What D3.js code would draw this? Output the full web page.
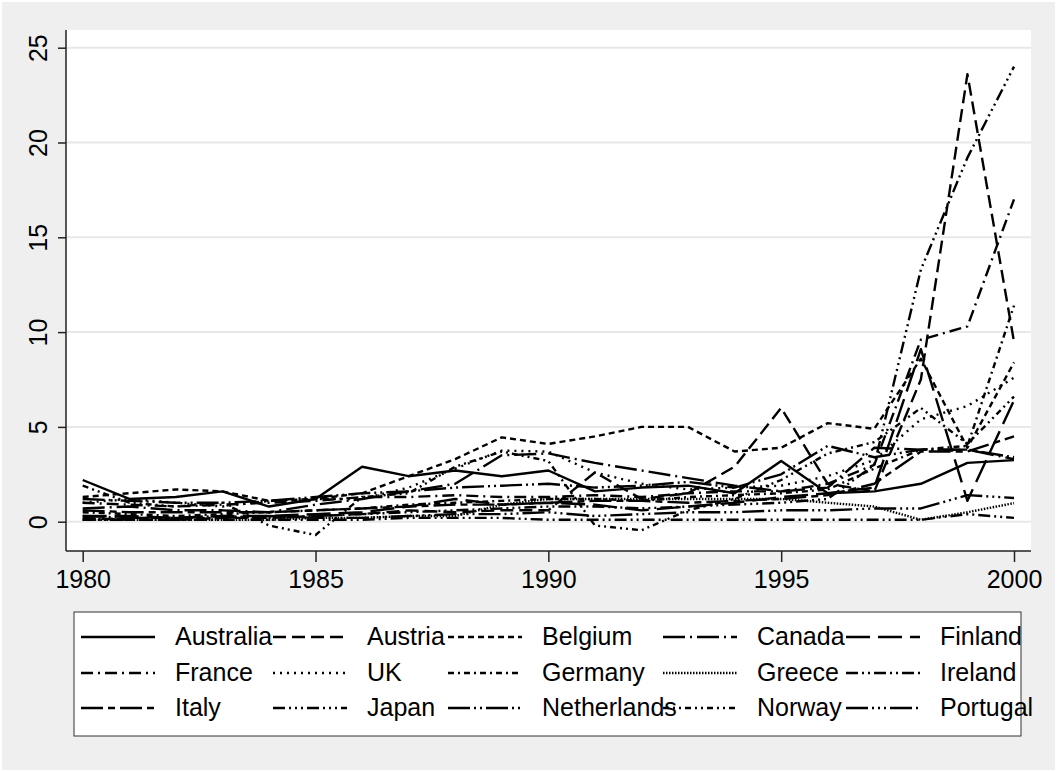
<!DOCTYPE html>
<html>
<head>
<meta charset="utf-8">
<script src="https://cdn.jsdelivr.net/npm/d3@7"></script>
<style>
  body { margin: 0; background: #fff; }
  text { font-family: "Liberation Sans", Arial, sans-serif; fill: #000; }
</style>
</head>
<body>
<svg id="chart" width="1057" height="772"></svg>
<script>
// years on the x axis
const years = d3.range(1980, 2001);

const countries = ["Australia", "Austria", "Belgium", "Canada", "Finland",
	"France", "UK", "Germany", "Greece", "Ireland",
	"Italy", "Japan", "Netherlands", "Norway", "Portugal"];

// values, one per year 1980..2000
const australia   = [2.2, 1.2, 1.3, 1.6, 0.8, 1.2, 2.9, 2.4, 2.7, 2.4, 2.7, 1.6, 1.8, 1.9, 1.5, 3.2, 1.5, 1.6, 2.0, 3.1, 3.25];
const austria     = [0.2, 0.1, 0.1, 0.2, 0.2, 0.3, 0.4, 0.6, 0.5, 0.6, 0.6, 2.6, 1.2, 1.5, 2.9, 6.0, 2.0, 1.6, 7.5, 23.6, 9.5];
const belgium     = [1.3, 1.5, 1.7, 1.6, 1.1, 1.2, 1.5, 2.4, 3.3, 4.45, 4.1, 4.5, 5.0, 5.0, 3.7, 3.9, 5.2, 4.9, 8.6, 3.9, 8.4];
const canada      = [0.7, 0.8, 0.6, 0.6, 0.5, 0.9, 1.2, 1.6, 2.0, 3.5, 3.6, 3.1, 2.7, 2.3, 1.9, 1.6, 1.8, 3.9, 3.8, 3.8, 3.3];
const finland     = [0.3, 0.3, 0.2, 0.3, 0.3, 0.4, 0.5, 0.8, 1.2, 0.9, 1.0, 0.9, 0.6, 0.8, 1.0, 1.3, 1.5, 1.8, 9.1, 1.1, 6.4];
const france      = [1.0, 0.9, 0.8, 0.9, 1.0, 1.1, 1.3, 1.3, 1.4, 1.3, 1.3, 1.4, 1.3, 1.5, 1.6, 1.6, 2.0, 3.0, 9.6, 10.3, 17.0];
const uk          = [1.0, 1.2, 1.0, 0.8, 1.1, 1.2, 1.2, 1.8, 2.8, 3.75, 3.7, 2.6, 2.0, 1.7, 1.8, 1.9, 2.4, 3.25, 5.4, 6.1, 7.6];
const germany     = [0.5, 0.4, 0.3, 0.4, 0.5, 0.6, 0.7, 0.9, 1.0, 1.1, 1.2, 1.2, 1.1, 1.3, 1.4, 1.5, 1.7, 2.8, 3.8, 4.0, 11.4];
const greece      = [0.1, 0.1, 0.1, 0.1, 0.1, 0.2, 0.2, 0.3, 0.3, 0.9, 1.2, 1.2, 1.2, 1.2, 1.2, 1.2, 1.0, 0.8, 0.1, 0.5, 0.98];
const ireland     = [0.1, 0.1, 0.1, 0.1, 0.1, 0.1, 0.1, 0.2, 0.2, 0.2, 0.1, 0.1, 0.1, 0.1, 0.1, 0.1, 0.1, 0.1, 0.1, 0.4, 0.2];
const italy       = [0.6, 0.5, 0.5, 0.5, 0.5, 0.6, 0.7, 0.8, 0.9, 0.9, 1.0, 1.1, 1.1, 1.0, 1.1, 1.2, 1.4, 2.0, 3.7, 3.7, 4.5];
const japan       = [0.1, 0.2, 0.2, 0.3, 0.2, 0.3, 0.4, 0.5, 0.6, 0.7, 0.8, 0.8, 0.7, 0.8, 0.9, 1.0, 1.2, 3.0, 13.3, 19.2, 24.0];
const netherlands = [1.2, 1.1, 1.0, 1.0, 1.1, 1.3, 1.5, 1.6, 1.8, 1.9, 2.0, 1.8, 1.9, 2.1, 1.8, 2.5, 4.0, 3.4, 3.8, 3.8, 3.4];
const norway      = [1.9, 1.0, 0.8, 1.0, -0.2, -0.7, 1.3, 1.5, 2.9, 3.7, 3.2, -0.2, -0.45, 0.6, 1.2, 2.2, 3.6, 4.2, 6.0, 4.1, 6.6];
const portugal    = [0.3, 0.2, 0.2, 0.2, 0.3, 0.2, 0.2, 0.3, 0.4, 0.4, 0.5, 0.3, 0.4, 0.5, 0.5, 0.6, 0.6, 0.7, 0.7, 1.4, 1.25];

const seriesValues = [australia, austria, belgium, canada, finland,
	france, uk, germany, greece, ireland,
	italy, japan, netherlands, norway, portugal];

const xTicks = [1980, 1985, 1990, 1995, 2000];
const yTicks = [0, 5, 10, 15, 20, 25];

// stata mono line patterns, in the same order as the countries
const patterns = [
	null,                      // solid
	"13,6",                    // dash
	"6,4",                     // shortdash
	"22,5,2,5",                // longdash_dot
	"24,8",                    // longdash
	"12,5,2,5",                // dash_dot
	"2,5",                     // dot
	"6,4,2,4",                 // shortdash_dot
	"1.5,1.5",                 // tight_dot
	"12,4,2,4,2,4",            // dash_dot_dot
	"22,5,7,5",                // longdash_shortdash
	"12,4,2,4,2,4,2,4",        // dash_3dot
	"22,4,2,4,2,4",            // longdash_dot_dot
	"6,4,2,4,2,4",             // shortdash_dot_dot
	"22,4,2,4,2,4,2,4"         // longdash_3dot
];

const svg = d3.select("#chart");

// outer background
svg.append("rect").attr("width", 1057).attr("height", 772).attr("fill", "#ffffff");
svg.append("rect").attr("x", 2).attr("y", 2).attr("width", 1053).attr("height", 768).attr("fill", "#efefef");

const plotLeft = 66, plotRight = 1031, plotTop = 30, plotBottom = 551;

svg.append("rect")
	.attr("x", plotLeft).attr("y", plotTop)
	.attr("width", plotRight - plotLeft).attr("height", plotBottom - plotTop)
	.attr("fill", "#ffffff");

const x = d3.scaleLinear().domain([1980, 2000]).range([82.7, 1014]);
const y = d3.scaleLinear().domain([0, 25]).range([521.7, 47.7]);

// grid lines
svg.append("g").selectAll("line")
	.data(yTicks)
	.enter().append("line")
		.attr("x1", plotLeft).attr("x2", plotRight)
		.attr("y1", d => y(d)).attr("y2", d => y(d))
		.attr("stroke", "#e8e8e8")
		.attr("stroke-width", 2);

// series
const line = d3.line()
	.x((d, i) => x(years[i]))
	.y(d => y(d));

svg.append("g").selectAll("path")
	.data(seriesValues)
	.enter().append("path")
		.attr("d", d => line(d))
		.attr("fill", "none")
		.attr("stroke", "#000")
		.attr("stroke-width", 2.4)
		.attr("stroke-linejoin", "round")
		.attr("stroke-dasharray", (d, i) => patterns[i]);

// axes
const xAxis = d3.axisBottom(x).tickValues(xTicks).tickFormat(d3.format("d"))
	.tickSize(11).tickSizeOuter(0).tickPadding(8);
const xg = svg.append("g")
	.attr("transform", "translate(0," + plotBottom + ")")
	.call(xAxis);
xg.select(".domain").remove();
xg.selectAll("line").attr("stroke", "#222").attr("stroke-width", 1.5);
xg.selectAll("text")
	.attr("font-size", 25)
	.attr("font-family", "Liberation Sans, Arial, sans-serif")
	.attr("fill", "#000");

const yAxis = d3.axisLeft(y).tickValues(yTicks).tickFormat(d3.format("d"))
	.tickSize(8).tickSizeOuter(0);
const yg = svg.append("g")
	.attr("transform", "translate(" + plotLeft + ",0)")
	.call(yAxis);
yg.select(".domain").remove();
yg.selectAll("line").attr("stroke", "#222").attr("stroke-width", 1.5);
yg.selectAll("text")
	.attr("font-size", 25)
	.attr("font-family", "Liberation Sans, Arial, sans-serif")
	.attr("fill", "#000")
	.attr("x", null).attr("dy", null)
	.attr("text-anchor", "middle")
	.attr("transform", "translate(-19,0) rotate(-90)");

svg.append("line")
	.attr("x1", plotLeft).attr("x2", plotLeft)
	.attr("y1", plotTop).attr("y2", plotBottom)
	.attr("stroke", "#222").attr("stroke-width", 1.5);
svg.append("line")
	.attr("x1", plotLeft).attr("x2", plotRight)
	.attr("y1", plotBottom).attr("y2", plotBottom)
	.attr("stroke", "#222").attr("stroke-width", 1.5);

// legend
const legendBox = { x: 74, y: 612, w: 947, h: 124 };
const labelX = [175, 367, 542, 757, 940];
const rowBase = [645, 681, 716];
const keyWidth = 74, keyGap = 20;

const legend = svg.append("g").attr("class", "legend");
legend.append("rect")
	.attr("x", legendBox.x).attr("y", legendBox.y)
	.attr("width", legendBox.w).attr("height", legendBox.h)
	.attr("fill", "#fff").attr("stroke", "#333").attr("stroke-width", 1);

const items = legend.selectAll("g.item")
	.data(countries)
	.enter().append("g")
		.attr("class", "item");

items.append("line")
	.attr("x1", (d, i) => labelX[i % 5] - keyGap - keyWidth)
	.attr("x2", (d, i) => labelX[i % 5] - keyGap)
	.attr("y1", (d, i) => rowBase[Math.floor(i / 5)] - 8)
	.attr("y2", (d, i) => rowBase[Math.floor(i / 5)] - 8)
	.attr("stroke", "#000")
	.attr("stroke-width", 2.4)
	.attr("stroke-dasharray", (d, i) => patterns[i]);

items.append("text")
	.attr("x", (d, i) => labelX[i % 5])
	.attr("y", (d, i) => rowBase[Math.floor(i / 5)])
	.attr("font-size", 25)
	.text(d => d);
</script>
</body>
</html>
